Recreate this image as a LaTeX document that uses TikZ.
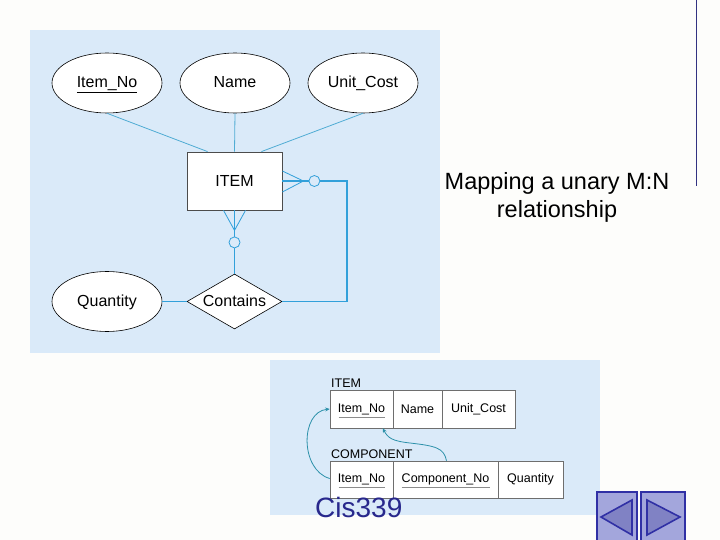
\documentclass[tikz,border=0pt]{standalone}
\usepackage{fontspec}
\setmainfont{Liberation Sans}
\usetikzlibrary{shapes.geometric,arrows.meta}
\definecolor{pagebg}{RGB}{253,253,251}
\definecolor{panel}{RGB}{218,234,249}
\definecolor{erline}{RGB}{50,160,218}
\definecolor{attline}{RGB}{80,172,212}
\definecolor{fkline}{RGB}{45,145,170}
\definecolor{cisblue}{RGB}{40,40,140}
\definecolor{btnfill}{RGB}{163,166,220}
\definecolor{btntri}{RGB}{128,130,196}
\definecolor{btnedge}{RGB}{48,48,165}
\definecolor{cellgray}{RGB}{110,110,110}
\definecolor{vline}{RGB}{50,50,130}
\tikzset{
  attr/.style={ellipse,draw=black,line width=0.6pt,fill=white,minimum width=110pt,minimum height=60pt,inner sep=0pt,text height=12pt,text depth=2pt,font=\fontsize{16}{18}\selectfont},
  entbox/.style={rectangle,draw=black!70,line width=0.8pt,fill=white,minimum width=95pt,minimum height=58pt,font=\fontsize{16}{18}\selectfont},
  relbox/.style={diamond,aspect=1.73,draw=black,line width=0.6pt,fill=white,minimum width=95pt,minimum height=55pt,inner sep=0pt,text height=12pt,text depth=2pt,font=\fontsize{16}{18}\selectfont},
  attlink/.style={attline,line width=0.8pt},
  erlink/.style={erline,line width=1.2pt},
  footlink/.style={erline,line width=0.8pt},
  zerocirc/.style={circle,draw=erline,line width=0.8pt,minimum size=11pt,inner sep=0pt},
  cell/.style={rectangle,draw=cellgray,line width=0.6pt,fill=white,inner sep=0pt,font=\fontsize{12.5}{14}\selectfont},
  tablabel/.style={anchor=base west,inner sep=0pt,font=\fontsize{12.5}{14}\selectfont},
  ulc/.style={draw=black!45,line width=0.6pt},
  fk/.style={fkline,line width=0.8pt,-{Stealth[length=4.5pt,width=4pt]}},
  btn/.style={fill=btnfill,draw=btnedge,line width=1.2pt},
  btntriangle/.style={fill=btntri,draw=btnedge,line width=1.6pt,line join=miter}
}
\begin{document}
\begin{tikzpicture}[x=1pt,y=-1pt]
\useasboundingbox (0,0) rectangle (720,540);
\fill[pagebg] (0,0) rectangle (720,540);
% vertical line top right
\draw[vline,line width=1pt] (696,0) -- (696,186);
% upper panel
\fill[panel] (30,30) rectangle (440,353);
% entities
\node[attr] (ino) at (107,83) {\underline{Item\_No}};
\node[attr] (nam) at (235,83) {Name};
\node[attr] (uc) at (363,83) {Unit\_Cost};
\node[entbox] (item) at (234.5,181) {ITEM};
\node[relbox] (cont) at (234.5,301.5) {Contains};
\node[attr] (qty) at (107,301.5) {Quantity};
% attribute links
\draw[attlink] (ino.south) -- ([xshift=21pt]item.north west);
\draw[attlink] (nam.south) -- (item.north);
\draw[attlink] (uc.south) -- ([xshift=-21pt]item.north east);
\draw[erlink] (qty.east) -- (cont.west);
% right crow's foot
\coordinate (rtip) at ([xshift=21pt]item.east);
\node[zerocirc] (c1) at ([xshift=32pt]item.east) {};
\draw[footlink] ([yshift=10pt]item.east) -- (rtip) -- ([yshift=-11pt]item.east);
\draw[erlink] (item.east) -- (c1.west);
\coordinate (corner) at (347,181);
\draw[erlink] (c1.east) -- (corner) |- (cont.east);
% bottom crow's foot
\coordinate (btip) at ([yshift=-20pt]item.south);
\node[zerocirc] (c2) at ([yshift=-32pt]item.south) {};
\draw[footlink] ([xshift=-11pt]item.south) -- (btip) -- ([xshift=11pt]item.south);
\draw[erlink] (item.south) -- (c2.north);
\draw[erlink] (c2.south) -- (cont.north);
% title
\node[align=center,font=\fontsize{23.5}{28}\selectfont] (title) at (557,197) {Mapping a unary M:N\\relationship};
% lower panel
\fill[panel] (270,360) rectangle (600,515);
\node[tablabel] (lit) at (331,387) {ITEM};
\node[cell,minimum width=63pt,minimum height=38pt] (i1) at (361.5,409) {Item\_No};
\node[cell,minimum width=49pt,minimum height=38pt] (i2) at (417.5,409) {Name};
\node[cell,minimum width=73pt,minimum height=38pt] (i3) at (478.5,409) {Unit\_Cost};
\node[tablabel] (lco) at (331,458) {COMPONENT};
\node[cell,minimum width=63pt,minimum height=37pt] (k1) at (361.5,479.5) {Item\_No};
\node[cell,minimum width=105pt,minimum height=37pt] (k2) at (445.5,479.5) {Component\_No};
\node[cell,minimum width=65pt,minimum height=37pt] (k3) at (530.5,479.5) {Quantity};
\draw[ulc] ([xshift=-23pt,yshift=-8pt]i1.center) -- ++(46,0);
\draw[ulc] ([xshift=-23pt,yshift=-8pt]k1.center) -- ++(46,0);
\draw[ulc] ([xshift=-44pt,yshift=-8pt]k2.center) -- ++(88,0);
% foreign key arrows
\draw[fk] ([yshift=1pt]k1.west) .. controls (300,470) and (300,412) .. (i1.west);
\draw[fk] ([xshift=1pt]k2.north) .. controls (444,448) and (436,446) .. (410,443) .. controls (392,441) and (388,438) .. ([xshift=-10pt]i2.south west);
% Cis339
\node[anchor=base west,inner sep=0pt,text=cisblue,font=\fontsize{28}{30}\selectfont] (cis) at (315,517) {Cis339};
% navigation buttons
\draw[btn] (597,492) rectangle (637,542);
\draw[btntriangle] (601,517) -- (632,500) -- (632,535) -- cycle;
\draw[btn] (641,492) rectangle (685,542);
\draw[btntriangle] (680,517) -- (647,500) -- (647,535) -- cycle;
\end{tikzpicture}
\end{document}
